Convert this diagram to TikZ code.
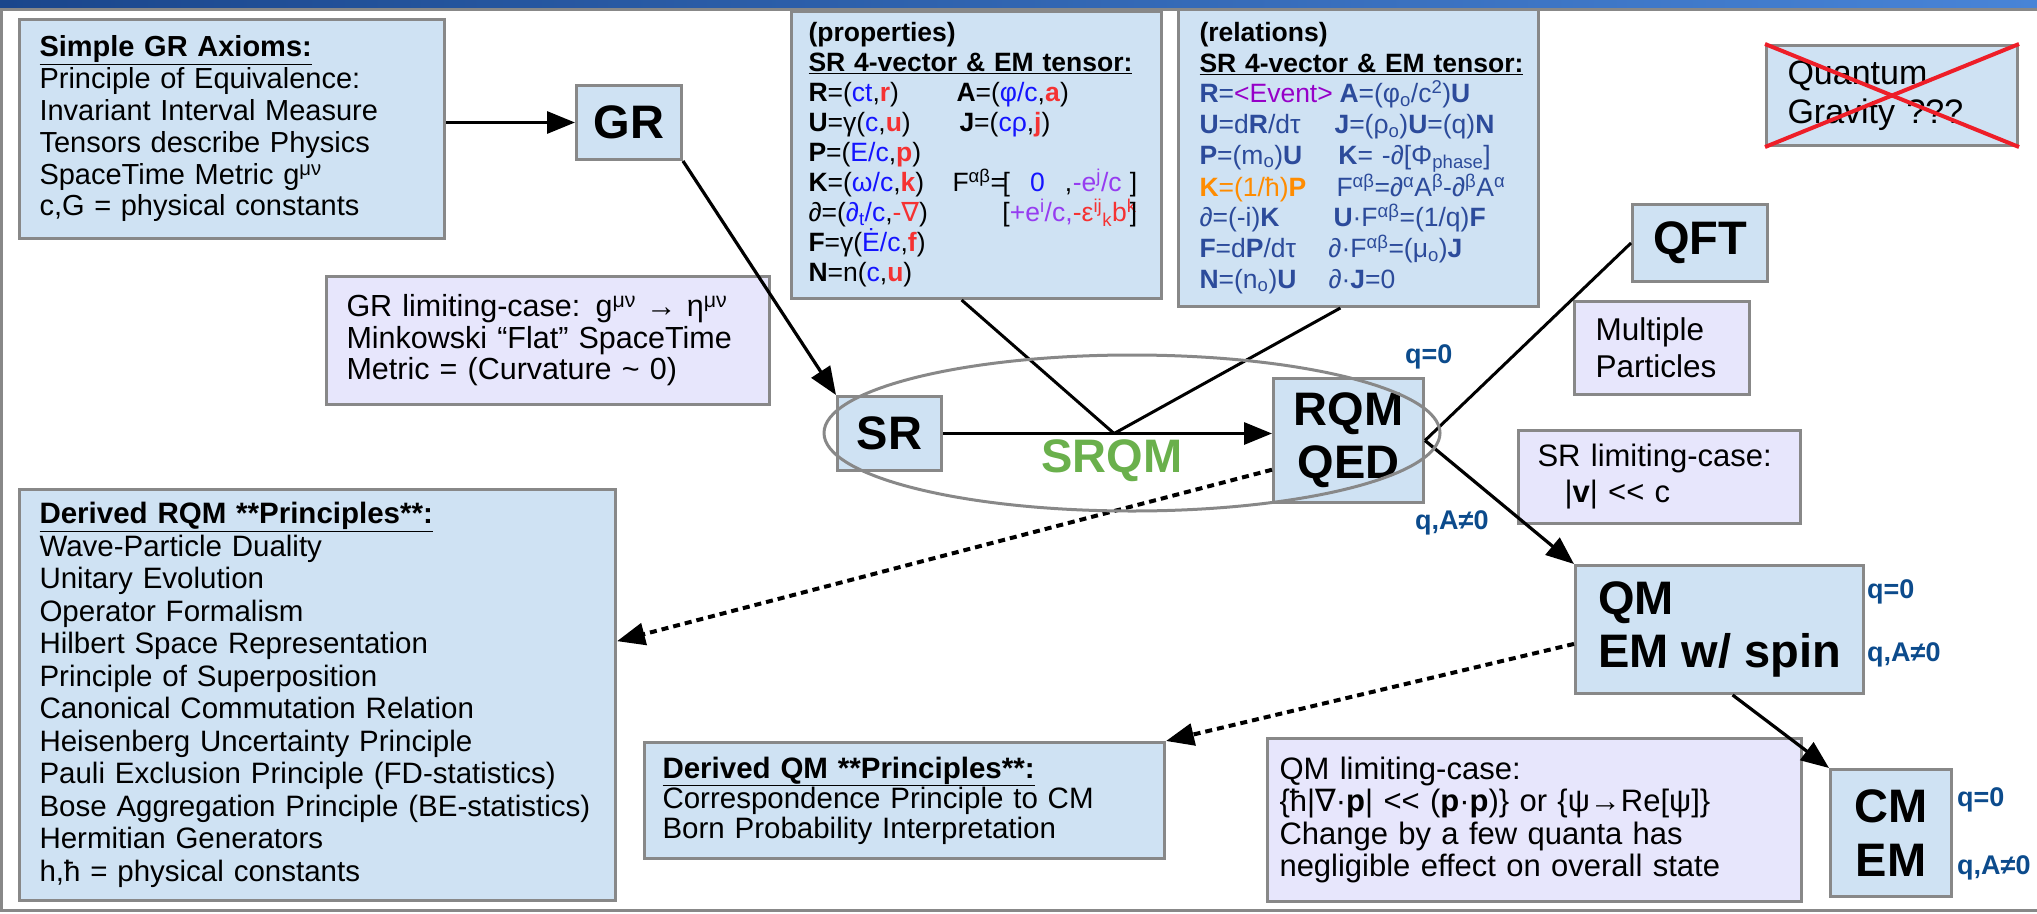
\documentclass[tikz,border=0pt]{standalone}
\usepackage{fontspec}
\setmainfont{Liberation Sans}
\newfontfamily\dv{DejaVu Sans}
\usetikzlibrary{arrows.meta,shapes.geometric,calc}
\definecolor{boxblue}{RGB}{207,226,243}
\definecolor{lav}{RGB}{231,230,252}
\definecolor{bgray}{RGB}{136,136,136}
\definecolor{tblue}{RGB}{20,20,255}
\definecolor{tred}{RGB}{245,50,50}
\definecolor{tpurp}{RGB}{150,60,240}
\definecolor{evpurp}{RGB}{150,0,200}
\definecolor{relblue}{RGB}{44,75,155}
\definecolor{orng}{RGB}{255,140,0}
\definecolor{qblue}{RGB}{12,75,140}
\definecolor{srqmgreen}{RGB}{106,176,76}
\definecolor{xred}{RGB}{238,30,40}
\definecolor{barL}{RGB}{26,70,140}
\definecolor{barR}{RGB}{72,132,215}
\newcommand\fsz[2]{\fontsize{#1pt}{#2pt}\selectfont}
\newcommand\TB[1]{\textcolor{tblue}{#1}}
\newcommand\SB[1]{\textcolor{tred}{\textbf{#1}}}
\newcommand\PU[1]{\textcolor{tpurp}{#1}}
\newcommand\nab{{\dv ∇}}
\newcommand\llt{<\kern0pt<}
\begin{document}
\begin{tikzpicture}[x=1pt,y=-1pt,
  box/.style={draw=bgray, line width=3pt, fill=boxblue, rectangle, inner sep=0pt, anchor=north west, align=left},
  lbox/.style={box, fill=lav},
  big/.style={font=\fsz{47}{53}\bfseries, align=center},
  ql/.style={font=\fsz{27}{30}\bfseries, text=qblue, inner sep=0pt, anchor=west},
  arr/.style={line width=3.2pt, -{Triangle[length=28pt,width=22pt]}},
  conn/.style={line width=3pt},
  darr/.style={line width=4pt, dash pattern=on 7pt off 5pt, -{Triangle[length=28pt,width=22pt]}}]
\useasboundingbox (0,0) rectangle (2037,913);
% slide frame
\shade[left color=barL,right color=barR] (0,0) rectangle (2037,7.5);
\draw[bgray,line width=3pt] (2040,9) -- (1.5,9) -- (1.5,910.5) -- (2040,910.5);

% boxes
\node[box, minimum width=425pt, minimum height=219pt, text width=385pt, font=\fsz{29}{31.8}] (axioms) at (18,18)
 {\textbf{\underline{Simple GR Axioms:}}\\
  Principle of Equivalence:\\
  Invariant Interval Measure\\
  Tensors describe Physics\\
  SpaceTime Metric g\textsuperscript{μν}\\
  c,G = physical constants};

\node[box, big, minimum width=105pt, minimum height=74pt] (GR) at (575,84) {GR};
\node[box, big, minimum width=104pt, minimum height=74pt] (SR) at (836,395) {SR};
\node[box, big, minimum width=150pt, minimum height=124pt] (RQM) at (1272,377) {RQM\\QED};
\node[box, big, minimum width=135pt, minimum height=77pt] (QFT) at (1631,203) {QFT};
\node[box, big, align=left, minimum width=288pt, minimum height=128pt] (QM) at (1574,564) {QM\\EM w/ spin};
\node[box, big, font=\fsz{47}{54}\bfseries, minimum width=121pt, minimum height=127pt] (CM) at (1829,768) {CM\\EM};

\node[lbox, minimum width=175pt, minimum height=93pt, text width=133pt, font=\fsz{31.5}{37}] (multi) at (1573,300)
 {Multiple\\Particles};
\node[box, minimum width=251pt, minimum height=100pt, text width=209pt, font=\fsz{34}{39}] (QG) at (1765,44)
 {Quantum\\Gravity ???};

\node[box, minimum width=370pt, minimum height=287pt, text width=336pt, font=\fsz{26.5}{30}] (props) at (790,10)
 {\textbf{(properties)}\\
  \textbf{\underline{SR 4-vector \& EM tensor:}}\\
  \makebox[148pt][l]{\textbf{R}=(\TB{ct},\SB{r})}\textbf{A}=(\TB{φ/c},\SB{a})\\
  \makebox[151pt][l]{\textbf{U}=γ(\TB{c},\SB{u})}\textbf{J}=(\TB{cρ},\SB{j})\\
  \textbf{P}=(\TB{E/c},\SB{p})\\
  \makebox[144pt][l]{\textbf{K}=(\TB{ω/c},\SB{k})}\makebox[50pt][l]{F\textsuperscript{αβ}=}[\makebox[55pt][c]{\TB{0}}\makebox[8pt][l]{,}\makebox[57pt][l]{\PU{-e\textsuperscript{j}/c}}]\\
  \makebox[194pt][l]{∂=(\TB{∂\textsubscript{t}/c},\textcolor{tred}{-\nab})}[\makebox[63pt][l]{\PU{+e\textsuperscript{i}/c,}}\makebox[57pt][l]{\textcolor{tred}{-ε\textsuperscript{ij}\textsubscript{k}b\textsuperscript{k}}}]\\
  \textbf{F}=γ(\TB{Ė/c},\SB{f})\\
  \textbf{N}=n(\TB{c},\SB{u})};

\node[box, minimum width=360pt, minimum height=297pt, text width=318pt, text=relblue, font=\fsz{26.5}{30.6}] (rels) at (1177,8)
 {\textcolor{black}{\textbf{(relations)}}\\
  \textcolor{black}{\textbf{\underline{SR 4-vector \& EM tensor:}}}\\
  \makebox[140pt][l]{\textbf{R}=\textcolor{evpurp}{<Event>}}\textbf{A}=(φ\textsubscript{o}/c\textsuperscript{2})\textbf{U}\\
  \makebox[135pt][l]{\textbf{U}=d\textbf{R}/dτ}\textbf{J}=(ρ\textsubscript{o})\textbf{U}=(q)\textbf{N}\\
  \makebox[139pt][l]{\textbf{P}=(m\textsubscript{o})\textbf{U}}\textbf{K}= -∂[Φ\textsubscript{phase}]\\
  \makebox[137pt][l]{\textcolor{orng}{\textbf{K}=(1/ħ)\textbf{P}}}F\textsuperscript{αβ}=∂\textsuperscript{α}A\textsuperscript{β}-∂\textsuperscript{β}A\textsuperscript{α}\\
  \makebox[134pt][l]{∂=(-i)\textbf{K}}\textbf{U}·F\textsuperscript{αβ}=(1/q)\textbf{F}\\
  \makebox[129pt][l]{\textbf{F}=d\textbf{P}/dτ}∂·F\textsuperscript{αβ}=(μ\textsubscript{o})\textbf{J}\\
  \makebox[129pt][l]{\textbf{N}=(n\textsubscript{o})\textbf{U}}∂·\textbf{J}=0};

\node[lbox, minimum width=443pt, minimum height=128pt, text width=403pt, font=\fsz{30.5}{31.5}] (GRlim) at (325,275)
 {GR limiting-case: g\textsuperscript{μν} → η\textsuperscript{μν}\\
  Minkowski “Flat” SpaceTime\\
  Metric = (Curvature \textasciitilde{} 0)};

\node[lbox, minimum width=282pt, minimum height=93pt, text width=244pt, font=\fsz{31}{36}] (SRlim) at (1517,429)
 {SR limiting-case:\\
  \hspace*{27pt}|\textbf{v}| \llt{} c};

\node[lbox, minimum width=534pt, minimum height=163pt, text width=510pt, font=\fsz{31}{32.5}] (QMlim) at (1266,737)
 {QM limiting-case:\\
  \{ħ|\nab·\textbf{p}| \llt{} (\textbf{p}·\textbf{p})\} or \{ψ→Re[ψ]\}\\
  Change by a few quanta has\\
  negligible effect on overall state};

\node[box, minimum width=520pt, minimum height=116pt, text width=484pt, font=\fsz{29.5}{30}] (dQM) at (643,741)
 {\textbf{\underline{Derived QM **Principles**:}}\\
  Correspondence Principle to CM\\
  Born Probability Interpretation};

\node[box, minimum width=596pt, minimum height=411pt, text width=556pt, font=\fsz{29.5}{32.5}] (dRQM) at (18,488)
 {\textbf{\underline{Derived RQM **Principles**:}}\\
  Wave-Particle Duality\\
  Unitary Evolution\\
  Operator Formalism\\
  Hilbert Space Representation\\
  Principle of Superposition\\
  Canonical Commutation Relation\\
  Heisenberg Uncertainty Principle\\
  Pauli Exclusion Principle (FD-statistics)\\
  Bose Aggregation Principle (BE-statistics)\\
  Hermitian Generators\\
  h,ħ = physical constants};

% labels
\node[ql] (q1) at (1405,357) {q=0};
\node[ql] (q2) at (1415,523) {q,A≠0};
\node[ql] (q3) at (1867,592) {q=0};
\node[ql] (q4) at (1867,655) {q,A≠0};
\node[ql] (q5) at (1957,800) {q=0};
\node[ql] (q6) at (1957,868) {q,A≠0};
\node[font=\fsz{47}{50}\bfseries, text=srqmgreen] (srqmlab) at (1112,461) {SRQM};

% connectors
\coordinate (jn) at ($(SR.east)!0.52!(RQM.west |- SR.east)$);
\draw[arr] (axioms.east |- GR.west) -- (GR.west);
\draw[arr] (GR.south east) -- (SR.north west);
\draw[arr] (SR.east) -- (RQM.west |- SR.east);
\draw[conn] ($(props.south west)!0.46!(props.south east)$) -- (jn);
\draw[conn] ($(rels.south west)!0.45!(rels.south east)$) -- (jn);
\draw[conn] (RQM.east) -- (QFT.west);
\draw[arr] (RQM.east) -- (QM.north west);
\draw[arr] ($(QM.south west)!0.545!(QM.south east)$) -- (CM.north west);
\draw[darr] ($(RQM.north west)!0.73!(RQM.south west)$) -- ($(dRQM.north east)!0.37!(dRQM.south east)$);
\draw[darr] ($(QM.north west)!0.61!(QM.south west)$) -- (dQM.north east);

% SRQM ellipse
\node[draw=bgray, line width=3pt, ellipse, minimum width=616pt, minimum height=156pt, inner sep=0pt] (srqm) at (1132,433) {};

% crossed-out quantum gravity
\draw[xred, line width=4pt] (QG.north west) -- (QG.south east);
\draw[xred, line width=4pt] (QG.south west) -- (QG.north east);
\end{tikzpicture}
\end{document}
